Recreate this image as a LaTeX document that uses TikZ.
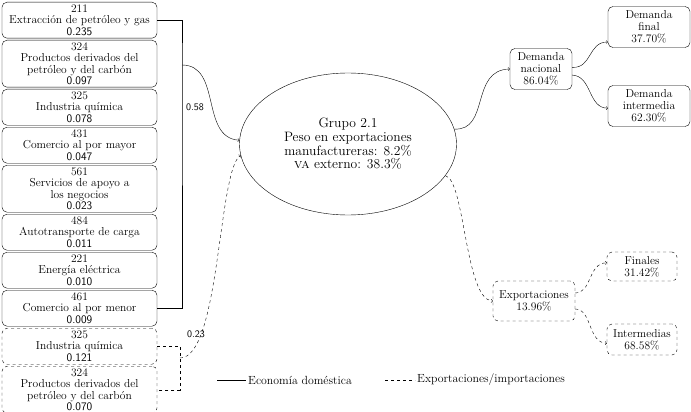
\documentclass[tikz,border=0pt]{standalone}
\usetikzlibrary{positioning,shapes.geometric}
\newcommand{\widthsector}{155pt}
\newcommand{\gapsector}{1.6pt}
\newcommand{\wt}[1]{\textsf{#1}}
\tikzset{
    common/.style={draw, rounded corners=5pt, align=center, inner sep=0.5pt},
    sector/.style={common, minimum width=\widthsector, minimum height=36pt, font=\fontsize{11.5}{11.2}\selectfont},
    sectorlong/.style={sector, minimum height=47pt},
    demand/.style={common, minimum width=82pt, minimum height=41pt, font=\fontsize{11.5}{12}\selectfont},
    weight/.style={font=\fontsize{10}{11}\selectfont},
    legend/.style={anchor=west, inner sep=2pt, font=\fontsize{11.8}{12}\selectfont}
}
\begin{document}
\begin{tikzpicture}[x=1pt, y=-1pt]
    \useasboundingbox (0,0) rectangle (691,412);
    \node[sector, anchor=north] (ext) at (79.5,2) {211\\Extracción de petróleo y gas\\\wt{0.235}};
    \node[sectorlong, below=\gapsector of ext] (pdc) {324\\Productos derivados del\\petróleo y del carbón\\\wt{0.097}};
    \node[sector, below=\gapsector of pdc] (qui) {325\\Industria química\\\wt{0.078}};
    \node[sector, below=\gapsector of qui] (may) {431\\Comercio al por mayor\\\wt{0.047}};
    \node[sectorlong, below=\gapsector of may] (apo) {561\\Servicios de apoyo a\\los negocios\\\wt{0.023}};
    \node[sector, below=\gapsector of apo] (aut) {484\\Autotransporte de carga\\\wt{0.011}};
    \node[sector, below=\gapsector of aut] (ene) {221\\Energía eléctrica\\\wt{0.010}};
    \node[sector, below=\gapsector of ene] (men) {461\\Comercio al por menor\\\wt{0.009}};
    \node[sector, dashed, below=\gapsector of men] (quiX) {325\\Industria química\\\wt{0.121}};
    \node[sectorlong, dashed, below=\gapsector of quiX] (pdcX) {324\\Productos derivados del\\petróleo y del carbón\\\wt{0.070}};

    \node[ellipse, draw, inner sep=0pt, minimum width=217pt, minimum height=142pt, align=center, font=\fontsize{13.6}{13.7}\selectfont] (grp) at (348,144)
        {Grupo 2.1\\Peso en exportaciones\\manufactureras: 8.2\%\\\textsc{va} externo: 38.3\%};

    \node[demand, minimum width=62pt] (nac) at (541,69) {Demanda\\nacional\\86.04\%};
    \node[demand] (fin) at (649,27) {Demanda\\final\\37.70\%};
    \node[demand] (int) at (649,106) {Demanda\\intermedia\\62.30\%};
    \node[demand, dashed, minimum height=40pt] (exp) at (534,301) {Exportaciones\\13.96\%};
    \node[demand, dashed, minimum width=70pt, minimum height=29pt] (fnl) at (642,266.5) {Finales\\31.42\%};
    \node[demand, dashed, minimum width=70pt, minimum height=31pt] (itm) at (642,339.5) {Intermedias\\68.58\%};

    \coordinate (dom) at (182,65);
    \coordinate (imp) at (180,358);
    \draw (ext.east) -| (dom) |- (men.east);
    \draw[dashed] (quiX.east) -| (imp) |- (pdcX.east);
    \draw[->] (dom) .. controls (222,65) and (200,138) .. (grp.178);
    \draw[dashed, ->] (imp) .. controls (220,358) and (218,170) .. (grp.186);
    \node[weight] (w58) at (195,107) {\wt{0.58}};
    \node[weight] (w23) at (196,334) {\wt{0.23}};

    \draw[->] (grp.8) .. controls (490,131) and (470,70) .. (nac.west);
    \draw[dashed, ->] (grp.-18) .. controls (465,180) and (465,300) .. (exp.west);
    \draw[->] (nac.3) .. controls (592,68.5) and (588,42) .. (fin.200);
    \draw[->] (nac.-11) .. controls (592,76) and (588,108) .. (int.183);
    \draw[dashed, ->] (exp.11) .. controls (592,293) and (588,263) .. (fnl.174);
    \draw[dashed, ->] (exp.-11) .. controls (592,309) and (588,343) .. (itm.186);

    \coordinate (lgA) at (217,380);
    \coordinate (lgB) at (246,380);
    \coordinate (lgC) at (385,380);
    \coordinate (lgD) at (415,380);
    \draw (lgA) -- (lgB) node[legend] (lgdom) {Economía doméstica};
    \draw[dashed] (lgC) -- (lgD) node[legend] (lgexp) {Exportaciones/importaciones};
\end{tikzpicture}
\end{document}
